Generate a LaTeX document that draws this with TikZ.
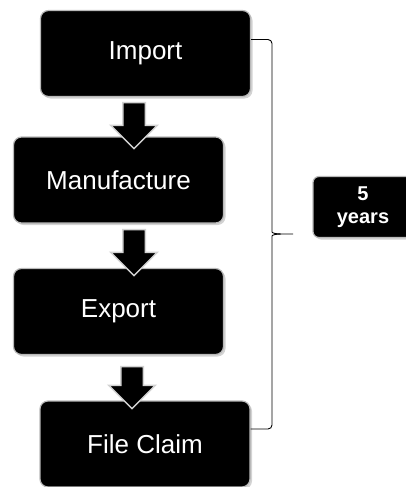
\documentclass[tikz,border=0pt]{standalone}
\usepackage{fontspec}
\setmainfont{Liberation Sans}
\usetikzlibrary{shapes,positioning,shadows}

\begin{document}
\begin{tikzpicture}[x=1pt, y=-1pt,
  stepbox/.style={draw=gray!55, line width=1.2pt, fill=black, rounded corners=8pt, minimum width=210pt, minimum height=86pt, text=white, font=\fontsize{26}{30}\selectfont, drop shadow={shadow xshift=2pt, shadow yshift=-2pt, opacity=.35}},
  downarrow/.style={single arrow, shape border rotate=270, fill=black, draw=gray!35, line width=1.5pt, minimum height=46pt, minimum width=45pt, single arrow head extend=12pt, inner sep=10.5pt},
  bracket/.style={draw=black, line width=0.9pt, rounded corners=4pt}]
\clip (0,0) rectangle (406,487);
\node[stepbox] (imp) at (145.5,53.5) {Import};
\node[stepbox] (man) at (118.5,180) {Manufacture};
\node[stepbox] (exp) at (118.5,311.5) {Export};
\node[stepbox] (fil) at (145,444) {File Claim};
\node[stepbox, minimum width=100pt, minimum height=61pt, rounded corners=6pt, align=center, font=\bfseries\fontsize{20}{23}\selectfont] (yrs) at (363,207) {5\\years};

\node[downarrow] (a1) at (134,120) {};
\node[downarrow] (a2) at (134,247) {};
\node[downarrow, minimum height=42pt] (a3) at (132,382) {};

% the bracket round all four steps
\coordinate (tip) at (293,234);
\draw[bracket] ([yshift=14pt]imp.east) -| (272,228) [sharp corners] .. controls (272,233) and (276,234) .. (281,234) -- (tip);
\draw[bracket] ([yshift=15pt]fil.east) -| (272,240) [sharp corners] .. controls (272,235) and (276,234) .. (281,234);
\end{tikzpicture}
\end{document}
